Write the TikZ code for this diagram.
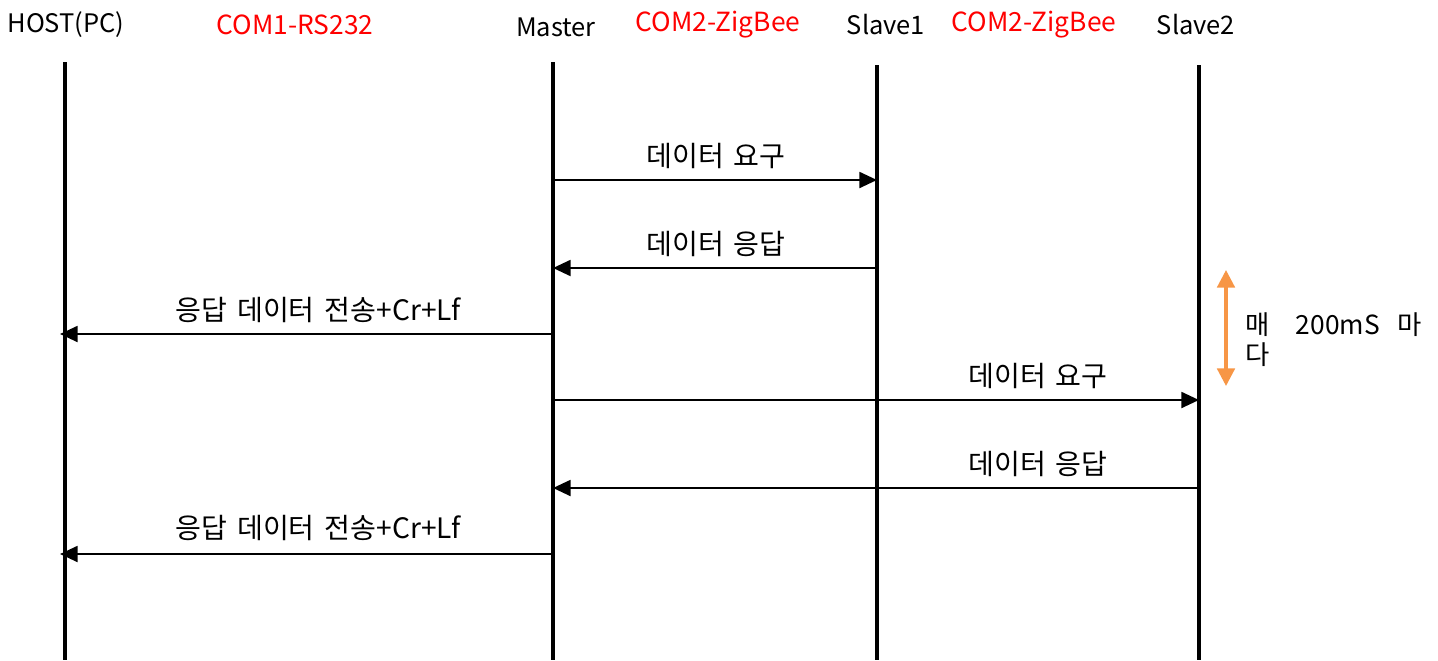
\documentclass[tikz,border=0pt]{standalone}
\usepackage{fontspec}
\setmainfont{Noto Sans CJK KR}
\newfontfamily\lblfont[WordSpace=1.6]{Noto Sans CJK KR}
\usetikzlibrary{arrows.meta}
\definecolor{comred}{RGB}{255,0,0}
\definecolor{orng}{RGB}{247,150,70}
\begin{document}
\begin{tikzpicture}[x=0.02cm,y=-0.02cm,
  every node/.style={inner sep=0pt},
  hdr/.style={text=black, font=\fontsize{14.5}{17}\selectfont},
  comlbl/.style={text=comred, font=\fontsize{15}{17}\selectfont},
  life/.style={line width=2pt},
  msg/.style={line width=1.4pt, -{Triangle[length=10pt,width=9pt]}},
  lbl/.style={anchor=base, font=\lblfont\fontsize{16}{19}\selectfont},
  ptxt/.style={anchor=base west, font=\fontsize{15}{18}\selectfont}]
\useasboundingbox (0,0) rectangle (1438,660);
% headers
\node[hdr] (hhost) at (66,25) {HOST(PC)};
\node[comlbl] (c1) at (295,25) {COM1-RS232};
\node[hdr] (hmaster) at (556,27) {Master};
\node[comlbl] (c2) at (718,25) {COM2-ZigBee};
\node[hdr] (hs1) at (886,25) {Slave1};
\node[comlbl] (c3) at (1034,25) {COM2-ZigBee};
\node[hdr] (hs2) at (1196,25) {Slave2};
% lifelines
\coordinate (ht) at (65,62); \coordinate (hb) at (65,660);
\coordinate (mt) at (553,62); \coordinate (mb) at (553,660);
\coordinate (s1t) at (877,65); \coordinate (s1b) at (877,660);
\coordinate (s2t) at (1199,65); \coordinate (s2b) at (1199,660);
\draw[life] (ht) -- (hb);
\draw[life] (mt) -- (mb);
\draw[life] (s1t) -- (s1b);
\draw[life] (s2t) -- (s2b);
% messages
\coordinate (m1a) at (553,180); \coordinate (m1b) at (877,180);
\draw[msg] (m1a) -- (m1b);
\node[lbl] (l1) at (716,166) {데이터 요구};
\coordinate (m2a) at (877,268); \coordinate (m2b) at (553,268);
\draw[msg] (m2a) -- (m2b);
\node[lbl] (l2) at (716,254) {데이터 응답};
\coordinate (m3a) at (553,334); \coordinate (m3b) at (60,334);
\draw[msg] (m3a) -- (m3b);
\node[lbl] (l3) at (318,320) {응답 데이터 전송+Cr+Lf};
\coordinate (m4a) at (553,400); \coordinate (m4b) at (1199,400);
\draw[msg] (m4a) -- (m4b);
\node[lbl] (l4) at (1038,386) {데이터 요구};
\coordinate (m5a) at (1199,488); \coordinate (m5b) at (553,488);
\draw[msg] (m5a) -- (m5b);
\node[lbl] (l5) at (1038,474) {데이터 응답};
\coordinate (m6a) at (553,554); \coordinate (m6b) at (60,554);
\draw[msg] (m6a) -- (m6b);
\node[lbl] (l6) at (318,538) {응답 데이터 전송+Cr+Lf};
% period
\coordinate (pa) at (1226,270); \coordinate (pb) at (1226,386);
\draw[orng, line width=1.8pt, {Triangle[length=10pt,width=10pt]}-{Triangle[length=10pt,width=10pt]}] (pa) -- (pb);
\node[ptxt] (p1) at (1245,334) {매\hspace{15pt}200mS\hspace{10pt}마};
\node[ptxt] (p2) at (1245,364) {다};
\end{tikzpicture}
\end{document}
